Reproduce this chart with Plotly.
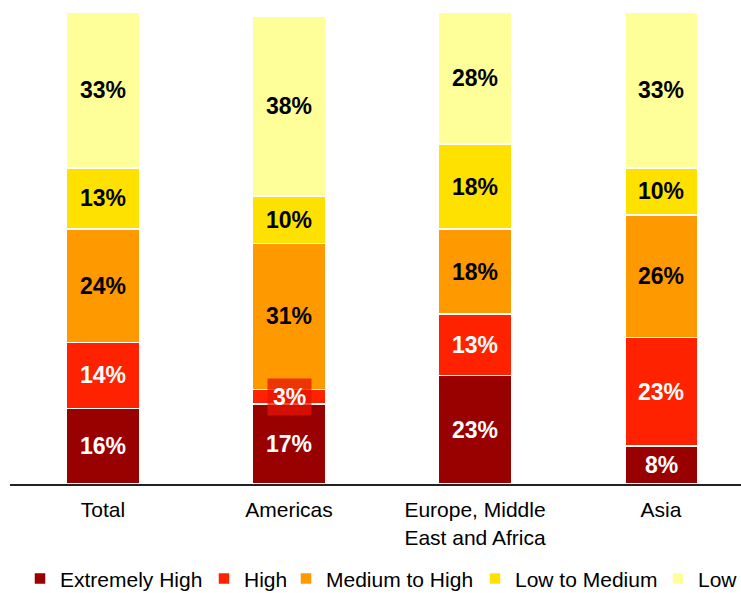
import plotly.graph_objects as go

# Regions and risk-level shares (percent)
regions = ["Total", "Americas", "Europe, Middle<br>East and Africa", "Asia"]
series_names = ["Extremely High", "High", "Medium to High", "Low to Medium", "Low"]
extremely_high = [16, 17, 23, 8]
high = [14, 3, 13, 23]
medium_to_high = [24, 31, 18, 26]
low_to_medium = [13, 10, 18, 10]
low = [33, 38, 28, 33]

series_values = [extremely_high, high, medium_to_high, low_to_medium, low]
series_colors = ["#990000", "#FF2200", "#FF9900", "#FFE100", "#FFFF99"]
label_colors = ["white", "white", "black", "black", "black"]
# text-area width of each legend entry (px)
legend_widths = [139, 37, 144, 138, 40]

FONT = "Liberation Sans, Arial, sans-serif"

fig = go.Figure()
for name, vals, col, lw in zip(series_names, series_values, series_colors, legend_widths):
    fig.add_trace(go.Bar(
        x=list(range(len(regions))), y=vals, name=name,
        marker=dict(color=col, line=dict(color="white", width=1.5)),
        width=0.39, legendwidth=lw,
    ))

# Value labels centred in each segment
annotations = []
for i in range(len(regions)):
    base = 0
    for vals, tcol in zip(series_values, label_colors):
        v = vals[i]
        mid = base + v / 2
        small = v < 5
        annotations.append(dict(
            x=i, y=mid, xref="x", yref="y", text=f"<b>{v}%</b>",
            showarrow=False,
            font=dict(family=FONT, size=23, color=tcol),
            bgcolor="rgba(230,20,0,0.75)" if small else None,
            borderpad=5 if small else 0,
        ))
        base += v

fig.update_layout(
    barmode="stack",
    width=741, height=593,
    margin=dict(l=10, r=0, t=12, b=109),
    paper_bgcolor="white", plot_bgcolor="white",
    font=dict(family=FONT, size=21, color="black"),
    xaxis=dict(
        tickmode="array", tickvals=list(range(len(regions))), ticktext=regions,
        range=[-0.5, 3.43], showline=True, linecolor="#222222", linewidth=2,
        showgrid=False, zeroline=False, ticks="", automargin=False,
        ticklabelstandoff=6,
        tickfont=dict(family=FONT, size=21, color="black"),
    ),
    yaxis=dict(range=[0, 100], visible=False, showgrid=False, zeroline=False),
    legend=dict(
        orientation="h", xref="container", x=20 / 741, xanchor="left",
        yref="container", y=0.024, yanchor="middle",
        font=dict(family=FONT, size=21, color="black"),
        traceorder="normal", itemclick=False, itemwidth=30,
        entrywidthmode="pixels",
    ),
    annotations=annotations,
    showlegend=True,
)

fig.write_html("out.html")
